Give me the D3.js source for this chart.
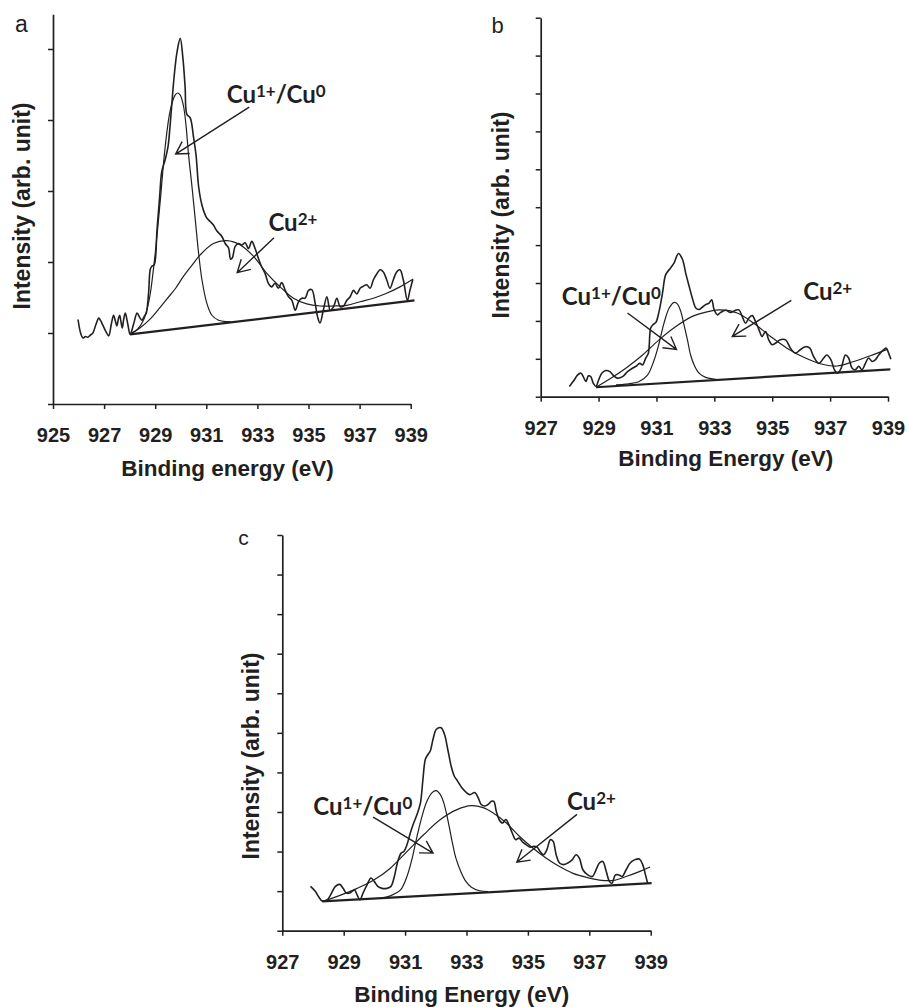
<!DOCTYPE html>
<html><head><meta charset="utf-8">
<script src="https://cdn.jsdelivr.net/npm/d3@7"></script>
<style>body{margin:0;background:#fff}svg{display:block}</style>
</head><body>
<svg id="chart" width="909" height="1007"></svg>
<script>
// ---------------- DATA (binding energy eV, intensity arb. unit) ----------------
const aXTicks = [925, 927, 929, 931, 933, 935, 937, 939];
const bXTicks = [927, 929, 931, 933, 935, 937, 939];
const cXTicks = [927, 929, 931, 933, 935, 937, 939];
const aYTicks = [0, 1, 2, 3, 4, 5];
const bYTicks = [0, 1, 2, 3, 4, 5, 6, 7, 8, 9, 10];
const cYTicks = [0, 1, 2, 3, 4, 5, 6, 7, 8, 9, 10];

const aSignal = [[925.98,1.19],[926.08,1.0],[926.17,0.93],[926.27,0.95],[926.36,0.94],[926.46,0.97],[926.56,1.0],[926.68,1.12],[926.79,1.21],[926.87,1.17],[926.95,1.11],[927.07,1.02],[927.18,0.96],[927.28,1.12],[927.37,1.25],[927.44,1.17],[927.5,1.1],[927.56,1.2],[927.61,1.25],[927.66,1.16],[927.71,1.07],[927.77,1.2],[927.83,1.28],[927.93,1.12],[928.02,0.98],[928.15,1.12],[928.29,1.28],[928.39,1.22],[928.48,1.18],[928.58,1.24],[928.65,1.28],[928.74,1.56],[928.81,1.9],[928.87,1.94],[928.96,1.96],[929.07,2.45],[929.17,2.9],[929.26,3.28],[929.39,3.44],[929.5,3.62],[929.59,3.95],[929.7,4.45],[929.78,4.75],[929.85,4.95],[929.98,5.15],[930.08,4.89],[930.17,4.47],[930.24,4.08],[930.37,4.03],[930.5,3.76],[930.6,3.5],[930.7,3.06],[930.83,2.8],[930.96,2.66],[931.02,2.62],[931.15,2.57],[931.28,2.52],[931.41,2.44],[931.61,2.36],[931.74,2.26],[931.87,2.2],[931.95,2.04],[932.02,2.06],[932.13,2.22],[932.26,2.26],[932.39,2.24],[932.52,2.27],[932.65,2.19],[932.78,2.29],[932.91,2.19],[933.04,2.05],[933.17,1.93],[933.3,1.84],[933.43,1.7],[933.56,1.65],[933.69,1.7],[933.82,1.63],[933.95,1.71],[934.09,1.6],[934.22,1.51],[934.35,1.46],[934.48,1.32],[934.61,1.44],[934.74,1.49],[934.87,1.49],[935.0,1.6],[935.13,1.61],[935.26,1.42],[935.36,1.22],[935.45,1.14],[935.58,1.32],[935.72,1.51],[935.85,1.32],[935.98,1.37],[936.11,1.49],[936.24,1.37],[936.37,1.38],[936.5,1.46],[936.63,1.51],[936.76,1.6],[936.89,1.55],[937.02,1.63],[937.15,1.66],[937.28,1.68],[937.41,1.63],[937.54,1.75],[937.67,1.83],[937.8,1.89],[937.93,1.86],[938.06,1.75],[938.19,1.63],[938.32,1.75],[938.45,1.86],[938.58,1.89],[938.71,1.75],[938.87,1.46],[938.97,1.6],[939.08,1.75]];
const aCu1 = [[928.02,0.99],[928.3,1.05],[928.54,1.18],[928.7,1.36],[928.81,1.56],[929.0,2.12],[929.2,2.87],[929.39,3.62],[929.59,4.14],[929.78,4.35],[929.87,4.38],[929.98,4.35],[930.11,4.19],[930.21,3.91],[930.3,3.53],[930.44,3.06],[930.57,2.59],[930.7,2.12],[930.83,1.75],[931.02,1.42],[931.22,1.25],[931.48,1.18],[931.8,1.16],[931.95,1.16]];
const aCu2 = [[928.02,0.98],[928.4,1.07],[928.81,1.2],[929.1,1.32],[929.46,1.48],[929.8,1.63],[930.11,1.8],[930.45,1.96],[930.76,2.1],[931.28,2.26],[931.8,2.3],[932.33,2.24],[932.85,2.08],[933.37,1.84],[933.89,1.65],[934.41,1.49],[934.93,1.41],[935.45,1.38],[935.98,1.38],[936.5,1.39],[937.02,1.44],[937.54,1.49],[938.06,1.56],[938.58,1.65],[939.1,1.76]];
const aBase = [[928.02,0.98],[939.15,1.46]];

const bSignal = [[927.99,0.27],[928.08,0.36],[928.16,0.44],[928.27,0.57],[928.39,0.62],[928.47,0.53],[928.56,0.4],[928.65,0.55],[928.73,0.53],[928.82,0.35],[928.91,0.27],[929.0,0.44],[929.11,0.62],[929.25,0.69],[929.39,0.66],[929.5,0.57],[929.65,0.49],[929.83,0.53],[930.0,0.66],[930.17,0.75],[930.31,0.81],[930.42,0.88],[930.52,0.84],[930.63,1.02],[930.72,1.15],[930.8,1.81],[930.88,1.9],[930.98,1.96],[931.09,2.25],[931.21,2.74],[931.32,3.22],[931.49,3.4],[931.61,3.53],[931.76,3.78],[931.9,3.62],[932.01,3.26],[932.13,2.91],[932.24,2.6],[932.36,2.34],[932.47,2.3],[932.61,2.38],[932.7,2.43],[932.82,2.47],[932.91,2.56],[932.99,2.3],[933.11,2.16],[933.21,2.22],[933.39,2.28],[933.56,2.22],[933.73,2.28],[933.85,2.29],[933.96,2.12],[934.08,1.94],[934.19,2.07],[934.31,2.14],[934.42,1.99],[934.54,1.77],[934.65,1.59],[934.77,1.72],[934.88,1.5],[935.0,1.37],[935.11,1.41],[935.28,1.5],[935.46,1.5],[935.63,1.28],[935.8,1.15],[935.97,1.24],[936.15,1.32],[936.3,1.28],[936.43,1.06],[936.61,0.88],[936.78,1.02],[936.89,1.1],[937.03,0.97],[937.15,0.71],[937.26,0.62],[937.38,0.75],[937.53,1.1],[937.64,1.02],[937.76,0.75],[937.87,0.71],[937.99,0.8],[938.1,0.71],[938.22,0.88],[938.33,1.02],[938.45,0.93],[938.56,0.97],[938.68,1.1],[938.85,1.24],[938.94,1.28],[939.02,1.15],[939.1,0.99]];
const bCu1 = [[929.6,0.31],[929.94,0.33],[930.4,0.4],[930.69,0.57],[930.92,0.97],[931.09,1.41],[931.26,1.94],[931.44,2.34],[931.61,2.49],[931.72,2.45],[931.84,2.25],[931.95,1.9],[932.07,1.5],[932.18,1.1],[932.3,0.84],[932.47,0.62],[932.7,0.51],[933.05,0.46]];
const bCu2 = [[928.91,0.25],[929.37,0.46],[929.94,0.75],[930.52,1.1],[931.09,1.5],[931.67,1.85],[932.24,2.12],[932.82,2.25],[933.2,2.29],[933.79,2.21],[934.36,1.94],[934.94,1.59],[935.51,1.28],[936.09,1.04],[936.66,0.87],[937.24,0.81],[937.82,0.93],[938.39,1.08],[938.97,1.25]];
const bBase = [[928.91,0.25],[939.08,0.72]];

const cSignal = [[927.92,1.12],[928.08,0.99],[928.19,0.85],[928.3,0.75],[928.46,0.78],[928.57,0.9],[928.73,1.12],[928.87,1.17],[928.98,1.07],[929.09,0.95],[929.22,0.96],[929.35,1.03],[929.44,0.9],[929.53,0.78],[929.63,0.95],[929.76,1.16],[929.89,1.33],[930.0,1.24],[930.11,1.12],[930.25,1.07],[930.41,1.07],[930.54,1.12],[930.65,1.37],[930.76,1.75],[930.87,1.96],[930.96,2.0],[931.06,2.17],[931.17,2.47],[931.28,2.72],[931.39,2.94],[931.5,3.23],[931.58,3.82],[931.66,4.33],[931.75,4.46],[931.82,4.54],[931.91,4.84],[932.02,5.09],[932.17,5.13],[932.28,4.97],[932.39,4.58],[932.5,4.16],[932.6,3.91],[932.71,3.78],[932.85,3.61],[933.0,3.49],[933.11,3.44],[933.27,3.49],[933.38,3.36],[933.48,3.19],[933.59,3.15],[933.7,3.19],[933.81,3.27],[933.89,3.27],[933.97,3.02],[934.06,2.81],[934.17,2.72],[934.28,2.81],[934.38,2.68],[934.49,2.47],[934.6,2.3],[934.71,2.34],[934.84,2.23],[934.95,2.17],[935.08,2.11],[935.19,2.13],[935.3,2.11],[935.4,2.0],[935.51,1.92],[935.62,2.05],[935.73,2.3],[935.82,2.26],[935.92,1.92],[936.03,1.71],[936.16,1.67],[936.3,1.71],[936.44,1.79],[936.57,1.92],[936.68,1.83],[936.79,1.54],[936.95,1.41],[937.1,1.37],[937.22,1.54],[937.33,1.71],[937.44,1.75],[937.55,1.5],[937.66,1.24],[937.74,1.2],[937.85,1.41],[937.96,1.41],[938.07,1.37],[938.2,1.54],[938.33,1.71],[938.47,1.79],[938.63,1.81],[938.74,1.67],[938.83,1.41],[938.9,1.2]];
const cCu1 = [[930.2,0.82],[930.52,0.88],[930.85,1.03],[931.06,1.37],[931.23,1.83],[931.39,2.39],[931.55,2.89],[931.71,3.27],[931.88,3.49],[932.01,3.54],[932.15,3.44],[932.26,3.23],[932.39,2.81],[932.53,2.26],[932.66,1.82],[932.8,1.52],[932.95,1.28],[933.16,1.1],[933.43,1.01],[933.7,0.99]];
const cCu2 = [[928.3,0.74],[928.9,0.9],[929.44,1.07],[929.98,1.28],[930.52,1.58],[931.06,2.0],[931.61,2.43],[932.15,2.81],[932.69,3.06],[933.15,3.16],[933.54,3.11],[933.86,2.98],[934.3,2.72],[934.73,2.38],[935.16,2.09],[935.6,1.83],[936.03,1.62],[936.47,1.45],[936.9,1.35],[937.33,1.28],[937.78,1.27],[938.2,1.37],[938.65,1.5],[938.98,1.61]];
const cBase = [[928.3,0.74],[939.03,1.2]];

// annotation anchors (data coords): label start, arrow tail, arrow tip
const aNotes = [{lab:"cu1", at:[931.8,4.235], tail:[932.68,4.18], tip:[929.8,3.52]},
                {lab:"cu2", at:[933.43,2.44], tail:[933.65,2.34], tip:[932.21,1.85]}];
const bNotes = [{lab:"cu1", at:[927.73,2.41], tail:[930.0,2.21], tip:[931.69,1.25]},
                {lab:"cu2", at:[936.07,2.56], tail:[935.66,2.54], tip:[933.62,1.59]}];
const cNotes = [{lab:"cu1", at:[928.01,2.935], tail:[929.96,2.87], tip:[931.91,1.96]},
                {lab:"cu2", at:[936.27,3.06], tail:[936.6,2.94], tip:[934.64,1.73]}];

// ---------------- DRAW ----------------
const svg = d3.select("#chart");
const INK = "#231f20";
const AX_FONT = "'Liberation Sans', Arial, sans-serif";
const LAB_FONT = "Lato, 'Open Sans', sans-serif";

function panel(p) {
  const x = d3.scaleLinear().domain(p.xDomain).range(p.xRange);
  const y = d3.scaleLinear().domain(p.yDomain).range(p.yRange);
  const g = svg.append("g");
  const y0 = y(0);

  const xa = g.append("g").attr("transform", `translate(0,${y0})`)
    .call(d3.axisBottom(x).tickValues(p.xTicks).tickSize(5).tickSizeOuter(0).tickFormat(d3.format("d")));
  xa.selectAll("text").attr("y", 38).attr("dy", null)
    .style("font-family", AX_FONT).style("font-weight", "bold").style("font-size", "20px").attr("fill", INK);
  const ya = g.append("g").attr("transform", `translate(${x(p.xDomain[0])},0)`)
    .call(d3.axisLeft(y).tickValues(p.yTicks).tickSize(5).tickSizeOuter(0).tickFormat(""));
  [xa, ya].forEach(a => {
    a.select(".domain").attr("stroke", INK).attr("stroke-width", 1.7);
    a.selectAll(".tick line").attr("stroke", INK).attr("stroke-width", 1.5);
  });

  g.append("text").attr("x", p.titleX).attr("y", y0 + p.titleDy).attr("text-anchor", "middle")
    .style("font-family", AX_FONT).style("font-weight", "bold").style("font-size", "22.5px")
    .attr("fill", INK).text(p.title);
  g.append("text").attr("transform", `translate(${p.ylabX},${p.ylabY}) rotate(-90)`).attr("text-anchor", "middle")
    .style("font-family", AX_FONT).style("font-weight", "bold").style("font-size", "23px")
    .attr("fill", INK).text("Intensity (arb. unit)");
  g.append("text").attr("x", p.letterX).attr("y", p.letterY)
    .style("font-family", AX_FONT).style("font-size", p.letterSize + "px").attr("fill", INK).text(p.letter);

  const line = d3.line().x(d => x(d[0])).y(d => y(d[1])).curve(d3.curveCatmullRom.alpha(0.5));
  const straight = d3.line().x(d => x(d[0])).y(d => y(d[1]));
  g.append("path").attr("d", straight(p.base)).attr("fill", "none").attr("stroke", INK).attr("stroke-width", 2.2);
  g.append("path").attr("d", line(p.cu2)).attr("fill", "none").attr("stroke", INK).attr("stroke-width", 1.2);
  g.append("path").attr("d", line(p.cu1)).attr("fill", "none").attr("stroke", INK).attr("stroke-width", 1.2);
  g.append("path").attr("d", line(p.signal)).attr("fill", "none").attr("stroke", INK).attr("stroke-width", 1.6)
    .attr("stroke-linejoin", "round");

  p.notes.forEach(n => {
    const t = g.append("text").attr("x", x(n.at[0])).attr("y", y(n.at[1]))
      .style("font-family", LAB_FONT).style("font-weight", "bold").style("font-size", "24px").attr("fill", INK);
    if (n.lab === "cu1") {
      t.append("tspan").text("Cu");
      t.append("tspan").attr("dy", -6).style("font-size", "17px").text("1+");
      t.append("tspan").attr("dy", 6).text("/Cu");
      t.append("tspan").attr("dy", -6).style("font-size", "17px").text("0");
    } else {
      t.append("tspan").text("Cu");
      t.append("tspan").attr("dy", -6).style("font-size", "17px").text("2+");
    }
    const x1 = x(n.tail[0]), y1 = y(n.tail[1]), x2 = x(n.tip[0]), y2 = y(n.tip[1]);
    const ang = Math.atan2(y1 - y2, x1 - x2), L = 14, w = Math.PI / 6;
    const d = `M${x1},${y1}L${x2},${y2}` +
      `M${x2 + L * Math.cos(ang + w)},${y2 + L * Math.sin(ang + w)}L${x2},${y2}` +
      `L${x2 + L * Math.cos(ang - w)},${y2 + L * Math.sin(ang - w)}`;
    g.append("path").attr("d", d).attr("fill", "none").attr("stroke", INK).attr("stroke-width", 1.4);
  });
}

panel({xDomain:[925,939], xRange:[53,410.7], yDomain:[0,5.49], yRange:[404,14.2],
  xTicks:aXTicks, yTicks:aYTicks, signal:aSignal, cu1:aCu1, cu2:aCu2, base:aBase, notes:aNotes,
  title:"Binding energy (eV)", titleX:227.5, titleDy:72, ylabX:30, ylabY:206,
  letter:"a", letterX:15, letterY:31.5, letterSize:23});
panel({xDomain:[927,939], xRange:[540.7,888], yDomain:[0,10], yRange:[396.7,17.7],
  xTicks:bXTicks, yTicks:bYTicks, signal:bSignal, cu1:bCu1, cu2:bCu2, base:bBase, notes:bNotes,
  title:"Binding Energy (eV)", titleX:725.8, titleDy:69.5, ylabX:509, ylabY:215,
  letter:"b", letterX:491.5, letterY:33.3, letterSize:22});
panel({xDomain:[927,939], xRange:[282.3,650.7], yDomain:[0,10], yRange:[930.7,535],
  xTicks:cXTicks, yTicks:cYTicks, signal:cSignal, cu1:cCu1, cu2:cCu2, base:cBase, notes:cNotes,
  title:"Binding Energy (eV)", titleX:461.7, titleDy:71, ylabX:259, ylabY:756,
  letter:"c", letterX:238.3, letterY:545, letterSize:21});
</script>
</body></html>
